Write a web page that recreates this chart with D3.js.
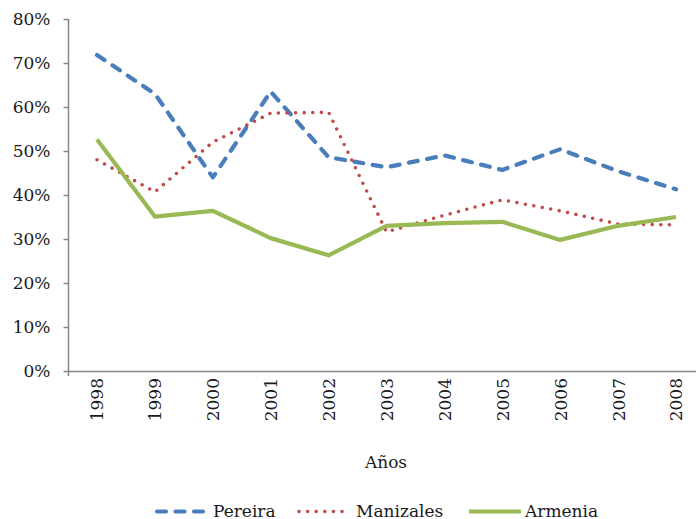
<!DOCTYPE html>
<html><head><meta charset="utf-8">
<script src="https://cdn.jsdelivr.net/npm/d3@7"></script>
<style>body{margin:0;background:#fff}svg{display:block}text{font-family:"DejaVu Serif",serif;fill:#1a1a1a}</style>
</head><body>
<svg id="c" width="696" height="519"></svg>
<script>
const years = ["1998","1999","2000","2001","2002","2003","2004","2005","2006","2007","2008"];
const pereira   = [71.8, 63.0, 44.0, 63.5, 48.6, 46.3, 49.0, 45.7, 50.4, 45.4, 41.3];
const manizales = [48.0, 40.7, 52.0, 58.6, 58.8, 31.6, 35.4, 38.9, 36.4, 33.4, 33.2];
const armenia   = [52.6, 35.1, 36.4, 30.2, 26.3, 33.0, 33.6, 33.9, 29.8, 33.0, 35.0];
const yTicks = [0,10,20,30,40,50,60,70,80];
const seriesNames = ["Pereira","Manizales","Armenia"];

const svg = d3.select("#c");
const axisX = 68.5, plotTop = 19, plotBottom = 371;
const x = d3.scalePoint().domain(years).range([97, 676]);
const y = d3.scaleLinear().domain([0,80]).range([plotBottom, plotTop]);

// y axis
const ya = svg.append("g").attr("transform",`translate(${axisX},0)`)
  .call(d3.axisLeft(y).tickValues(yTicks).tickSize(5).tickPadding(13).tickFormat(d=>d+"%"));
ya.select(".domain").remove();
ya.selectAll(".tick line").attr("stroke","#868686").attr("stroke-width",1.5);
ya.selectAll(".tick text").style("font-size","17px").attr("fill","#1a1a1a");
svg.append("line").attr("x1",axisX).attr("x2",axisX).attr("y1",plotTop).attr("y2",plotBottom+5)
  .attr("stroke","#868686").attr("stroke-width",1.5);
// x axis
svg.append("line").attr("x1",axisX).attr("x2",696).attr("y1",plotBottom+0.5).attr("y2",plotBottom+0.5)
  .attr("stroke","#868686").attr("stroke-width",1.5);
const xa = svg.append("g").attr("transform",`translate(0,${plotBottom})`)
  .call(d3.axisBottom(x).tickSize(0).tickPadding(0));
xa.select(".domain").remove();
xa.selectAll(".tick text").style("font-size","17px")
  .attr("transform","rotate(-90)").attr("text-anchor","end")
  .attr("x",-7).attr("y",0).attr("dy","0.35em");

svg.append("text").attr("x",386).attr("y",468).attr("text-anchor","middle")
  .style("font-size","17px").text("Años");

const line = d3.line().x((d,i)=>x(years[i])).y(d=>y(d));
const styles = [
  {data:pereira, color:"#4A7EBB", w:4.2, dash:"9,9.5", cap:"round"},
  {data:manizales, color:"#BE4B48", w:3.6, dash:"0,8.6", cap:"round"},
  {data:armenia, color:"#98B954", w:4.2, dash:null, cap:"butt"}
];
[0,1,2].forEach(i=>{
  const s = styles[i];
  svg.append("path").attr("d",line(s.data)).attr("fill","none")
    .attr("stroke",s.color).attr("stroke-width",s.w)
    .attr("stroke-dasharray",s.dash).attr("stroke-linecap",s.cap).attr("stroke-linejoin","round");
});

// legend
const leg = [{x1:157,x2:203,tx:213},{x1:299,x2:346,tx:356},{x1:469,x2:521,tx:525}];
leg.forEach((l,i)=>{
  const s = styles[i];
  svg.append("line").attr("x1",l.x1).attr("x2",l.x2).attr("y1",511.5).attr("y2",511.5)
    .attr("stroke",s.color).attr("stroke-width",s.w)
    .attr("stroke-dasharray",s.dash).attr("stroke-linecap",s.cap);
  svg.append("text").attr("x",l.tx).attr("y",516.5)
    .style("font-size","17px").text(seriesNames[i]);
});
</script>
</body></html>
